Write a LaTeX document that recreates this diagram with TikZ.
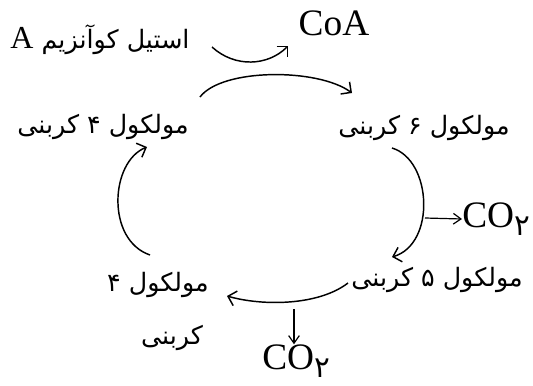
\documentclass[tikz,border=0pt]{standalone}
\usepackage{fontspec}
\setmainfont{Liberation Serif}
\newfontfamily\arabicfont[Script=Arabic]{DejaVu Sans}
\TeXXeTstate=1
\usetikzlibrary{arrows.meta}
\tikzset{
  fa/.style={font=\arabicfont\fontsize{19}{22}\selectfont, inner sep=0pt},
  lat/.style={font=\fontsize{28}{30}\selectfont, inner sep=0pt},
  latbig/.style={font=\fontsize{28}{30}\selectfont, inner sep=0pt},
  cyc/.style={line width=1.1pt, -{Straight Barb[angle=90:8pt]}},
  outarrow/.style={line width=0.9pt, -{Straight Barb[angle=70:7pt]}}
}
\newcommand{\cotwo}{CO\raisebox{-0.22em}{\arabicfont\fontsize{22}{22}\selectfont ۲}}
\begin{document}
\begin{tikzpicture}[x=0.75pt,y=-0.75pt]
\useasboundingbox (0,0) rectangle (533,386);
% texts
\node[fa] (acetyl) at (100,40) {\beginR استیل کوآنزیم {\rmfamily\fontsize{24}{26}\selectfont A}\endR};
\node[lat] (coa) at (334,23) {CoA};
\node[fa] (c4top) at (103,127) {\beginR مولکول ۴ کربنی\endR};
\node[fa] (c6) at (424,128) {\beginR مولکول ۶ کربنی\endR};
\node[latbig,anchor=west] (co2a) at (462,219) {\cotwo};
\node[fa] (c5) at (437,280) {\beginR مولکول ۵ کربنی\endR};
\node[fa] (c4a) at (158,285) {\beginR مولکول ۴\endR};
\node[fa] (c4b) at (172,338) {\beginR کربنی\endR};
\node[latbig,anchor=west] (co2b) at (262,361) {\cotwo};
% coordinates
\coordinate (s1) at (212,47); \coordinate (e1) at (288,46);
\coordinate (s2) at (200,97); \coordinate (e2) at (352,93);
\coordinate (s3) at (392,148); \coordinate (e3) at (392,257);
\coordinate (s4) at (348,283); \coordinate (e4) at (227,296);
\coordinate (s5) at (150,255); \coordinate (e5) at (147,147);
\coordinate (o1) at (425,218); \coordinate (o2) at (294,309);
% arrows
\draw[cyc] (s1) .. controls (235,68) and (268,66) .. (e1);
\draw[cyc] (s2) .. controls (222,68) and (318,68) .. (e2);
\draw[cyc] (s3) .. controls (432,160) and (436,244) .. (e3);
\draw[cyc] (s4) .. controls (318,306) and (262,306) .. (e4);
\draw[cyc] (s5) .. controls (106,240) and (110,162) .. (e5);
\draw[outarrow] (o1) -- (co2a.west);
\draw[outarrow] (o2) -- (co2b.north -| o2);
\end{tikzpicture}
\end{document}
